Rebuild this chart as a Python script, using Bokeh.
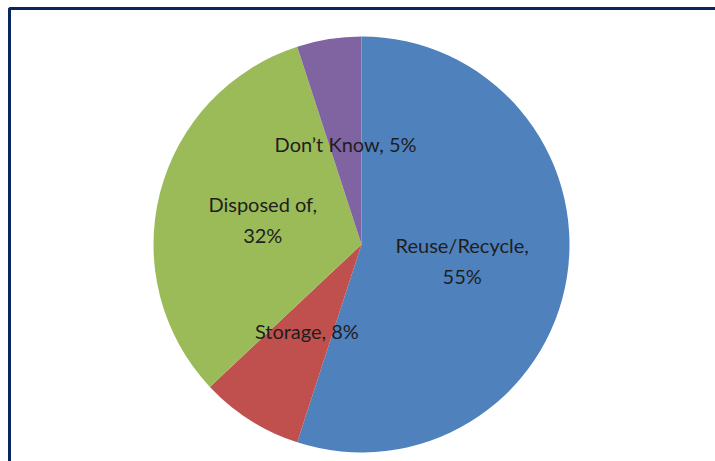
import math
from bokeh.plotting import figure
from bokeh.models import Range1d, ColumnDataSource
from bokeh.core.properties import value
from bokeh.embed import file_html
from bokeh.resources import INLINE

categories = ["Reuse/Recycle", "Storage", "Disposed of", "Don\u2019t Know"]
percents = [55, 8, 32, 5]
colors = ["#4F81BD", "#C0504D", "#9BBB59", "#8064A2"]
label_texts = ["Reuse/Recycle,\n55%", "Storage, 8%", "Disposed of,\n32%", "Don\u2019t Know, 5%"]

W, H = 715, 461
cx, cy, r = 361, H - 244, 208
label_frac = 0.49

total = sum(percents)
starts, ends, lx, ly = [], [], [], []
acc = 0.0
for v in percents:
    a0 = math.pi / 2 - 2 * math.pi * acc / total
    a1 = math.pi / 2 - 2 * math.pi * (acc + v) / total
    starts.append(a0)
    ends.append(a1)
    mid = (a0 + a1) / 2
    lx.append(cx + label_frac * r * math.cos(mid))
    ly.append(cy + label_frac * r * math.sin(mid))
    acc += v

src = ColumnDataSource(dict(start=starts, end=ends, color=colors,
                            lx=lx, ly=ly, text=label_texts, cat=categories))

p = figure(width=W, height=H, output_backend="svg", toolbar_location=None,
           x_range=Range1d(0, W), y_range=Range1d(0, H),
           x_axis_type=None, y_axis_type=None, min_border=0)
p.grid.visible = False
p.outline_line_color = None
p.background_fill_color = "white"
p.border_fill_color = "white"

# chart frame border (top and left visible)
p.quad(left=[9], right=[W + 50], top=[H - 8], bottom=[-50],
       fill_color=None, line_color="#0B2462", line_width=3)

p.wedge(x=cx, y=cy, radius=r, start_angle="start", end_angle="end",
        direction="clock", fill_color="color", line_color=None, source=src)

p.text(x="lx", y="ly", text="text", source=src, text_align="center",
       text_baseline="middle", text_font=value("Lato"), text_font_size="20px",
       text_color="#1E1E1E", text_line_height=1.3)

open("out.html", "w").write(file_html(p, INLINE))
